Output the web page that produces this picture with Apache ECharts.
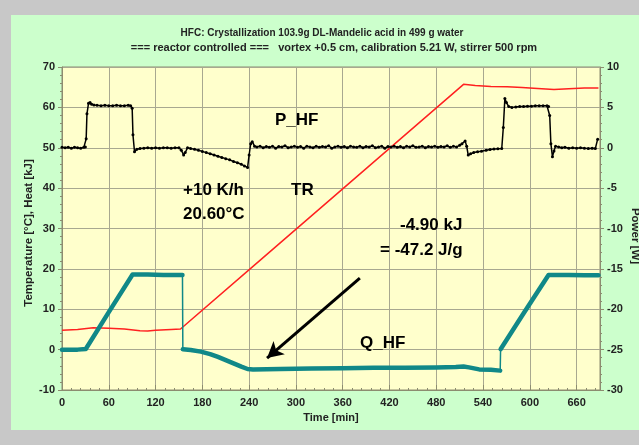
<!DOCTYPE html>
<html><head><meta charset="utf-8">
<script src="https://cdn.jsdelivr.net/npm/echarts@6/dist/echarts.min.js"></script>
<style>html,body{margin:0;padding:0;background:#c8c8c8;overflow:hidden;}#c{width:639px;height:445px;}</style>
</head><body><div id="c"></div>
<script>
// ---- data ----
const titleLine1 = 'HFC: Crystallization 103.9g DL-Mandelic acid in 499 g water';
const titleLine2 = '=== reactor controlled ===   vortex +0.5 cm, calibration 5.21 W, stirrer 500 rpm';
const xTicks = [0,60,120,180,240,300,360,420,480,540,600,660];

// TR reactor temperature [°C] (left axis)
const trTime  = [0, 20, 40, 60, 80, 100, 110, 120, 140, 152, 255, 515, 530, 550, 571, 590, 610, 631, 650, 670, 688];
const trValue = [4.8, 5.0, 5.4, 5.3, 5.1, 4.7, 4.6, 4.8, 5.0, 5.1, 22.3, 65.7, 65.4, 65.2, 65.1, 64.9, 64.7, 64.4, 64.6, 64.8, 64.8];

// Q_HF heat [kJ] (left axis), thick segments
const qTime1  = [0, 10, 20, 30.5, 60, 90.5, 110, 130, 154.5];
const qValue1 = [0, 0, 0, 0.15, 9.3, 18.6, 18.6, 18.5, 18.5];
const qTime2  = [155, 165, 178, 190, 200, 210, 220, 230, 238, 245, 280, 320, 360, 400, 440, 480, 505, 515, 522, 535, 550, 562];
const qValue2 = [0.1, -0.1, -0.5, -1.1, -1.8, -2.6, -3.4, -4.2, -4.8, -4.9, -4.8, -4.7, -4.6, -4.5, -4.5, -4.4, -4.3, -4.2, -4.4, -4.9, -5.0, -5.2];
const qTime3  = [562.5, 590, 624, 650, 670, 688];
const qValue3 = [0.1, 8.4, 18.5, 18.5, 18.4, 18.4];
// vertical jumps (thin)
const qJumpTime  = [154.5, 155, null, 562, 562.5];
const qJumpValue = [18.5, 0.1, null, -5.2, 0.1];

// P_HF power [W] (right axis)
const pTime = [0,4,8,12,16,20,24,28,30,31,32,34,36,38,41,45,50,55,60,65,70,75,80,85,88,90,91,93,96,100,105,110,115,120,125,130,135,140,145,150,153,156,158,161,165,170,175,180,185,190,195,200,205,210,215,220,225,230,234,238,240,242,244,247,
  250,254,258,262,266,270,274,278,282,286,290,294,298,302,306,310,314,318,322,326,330,334,338,342,346,350,354,358,362,366,370,374,378,382,386,390,394,398,402,406,410,414,418,422,426,430,434,438,442,446,450,454,458,462,466,470,474,478,482,486,490,494,498,502,506,510,
  513,517,519,521,524,528,533,538,544,549,554,559,564,566,568,570,573,577,582,587,592,597,602,607,612,617,622,624,625.5,627,629,631,633,637,641,645,650,655,660,665,670,675,680,684,687];
const pValue = [0.05,0.0,0.05,-0.05,0.05,0.0,-0.05,0.05,0.1,1.1,4.2,5.5,5.6,5.4,5.3,5.25,5.2,5.25,5.2,5.2,5.25,5.2,5.2,5.25,5.2,4.9,1.6,-0.5,-0.2,-0.1,-0.05,0.0,-0.05,0.0,-0.05,0.0,0.0,-0.05,0.0,0.0,-0.3,-0.9,-0.6,0.0,-0.1,-0.2,-0.3,-0.45,-0.6,-0.75,-0.9,-1.05,-1.2,-1.35,-1.5,-1.7,-1.85,-2.05,-2.25,-2.45,-0.9,0.5,0.75,0.2,
  0.1,0.2,0.0,0.15,0.05,0.2,-0.05,0.15,0.1,0.25,0.0,0.1,0.2,0.05,0.15,-0.05,0.2,0.1,0.0,0.2,0.05,0.15,0.1,0.25,-0.05,0.1,0.2,0.05,0.15,0.0,0.2,0.1,0.05,0.2,0.0,0.15,0.1,0.25,0.0,0.1,0.2,-0.05,0.15,0.1,0.2,0.05,0.15,0.0,0.2,0.1,0.25,0.05,0.1,0.2,0.0,0.15,0.1,0.2,0.05,0.15,0.1,0.25,0.05,0.2,0.1,0.3,
  0.5,0.85,0.2,-0.9,-0.75,-0.6,-0.5,-0.42,-0.3,-0.22,-0.17,-0.12,-0.09,2.5,6.1,5.6,5.1,5.0,5.05,5.1,5.1,5.15,5.15,5.2,5.2,5.2,5.2,5.1,4.0,0.5,-1.1,-0.4,0.2,0.1,0.0,0.05,-0.05,0.0,-0.05,0.0,-0.05,-0.1,-0.05,-0.1,1.06];

// arrow annotation (data coordinates)
const arrowFrom = [382, 17.7];
const arrowTo   = [263, -2.1];

const zip = (a, b) => a.map((t, i) => [t, b[i]]);

const FONT = 'Arial, "Liberation Sans", sans-serif';
const axisLineColor = '#8c8c70';
const gridColor = '#a8a890';
const labelStyle = {color: '#222', fontFamily: FONT, fontWeight: 'bold', fontSize: 11};

const chart = echarts.init(document.getElementById('c'), null, {renderer: 'canvas', width: 639, height: 445});
const annot = (text, x, y, size) => ({
  type: 'text', left: x, top: y - size/2 - 1, z: 100,
  style: {text: text, fill: '#000', font: 'bold ' + size + 'px ' + FONT}
});
const centered = (text, x, y, font, rot) => ({
  type: 'text', x: x, y: y, rotation: rot || 0, z: 100,
  style: {text: text, fill: '#222', font: font, textAlign: 'center', textVerticalAlign: 'middle'}
});
chart.setOption({
  backgroundColor: '#c8c8c8',
  animation: false,
  grid: {left: 62, right: 39, top: 67, bottom: 55, show: true, backgroundColor: '#ffffcc', borderColor: axisLineColor, borderWidth: 1},
  graphic: [
    {type: 'rect', left: 11, top: 15, shape: {width: 628, height: 415}, style: {fill: '#ccffcc'}, z: -10, silent: true},
    centered(titleLine1, 322, 33, 'bold 10px ' + FONT),
    centered(titleLine2, 334, 48, 'bold 11px ' + FONT),
    centered('Temperature [°C], Heat [kJ]', 29, 233, 'bold 11.5px ' + FONT, Math.PI / 2),
    centered('Power [W]', 635, 236, 'bold 11.5px ' + FONT, -Math.PI / 2),
    annot('P_HF', 275, 121, 17),
    annot('+10 K/h', 183, 191, 17),
    annot('20.60°C', 183, 215, 17),
    annot('TR', 291, 191, 17),
    annot('-4.90 kJ', 400, 226, 17),
    annot('= -47.2 J/g', 380, 251, 17),
    annot('Q_HF', 360, 344, 17)
  ],
  xAxis: {
    type: 'value', min: 0, max: 690, interval: 60,
    name: 'Time [min]', nameLocation: 'middle', nameGap: 21,
    nameTextStyle: {color: '#222', fontFamily: FONT, fontWeight: 'bold', fontSize: 11},
    axisLine: {onZero: false, lineStyle: {color: axisLineColor}},
    axisTick: {inside: true, length: 5, lineStyle: {color: axisLineColor}},
    minorTick: {show: true, splitNumber: 5, length: 2, lineStyle: {color: axisLineColor}},
    splitLine: {show: true, lineStyle: {color: gridColor, width: 1}},
    axisLabel: Object.assign({margin: 7, formatter: v => xTicks.includes(v) ? String(v) : ''}, labelStyle)
  },
  yAxis: [
    {
      type: 'value', min: -10, max: 70, interval: 10, position: 'left',
      axisLine: {show: true, onZero: false, lineStyle: {color: axisLineColor}},
      axisTick: {show: true, length: 4, lineStyle: {color: axisLineColor}},
      minorTick: {show: true, splitNumber: 5, length: 2, lineStyle: {color: axisLineColor}},
      splitLine: {show: true, lineStyle: {color: gridColor, width: 1}},
      axisLabel: Object.assign({margin: 7}, labelStyle)
    },
    {
      type: 'value', min: -30, max: 10, interval: 5, position: 'right',
      axisLine: {show: true, onZero: false, lineStyle: {color: axisLineColor}},
      axisTick: {show: true, length: 4, lineStyle: {color: axisLineColor}},
      minorTick: {show: true, splitNumber: 5, length: 2, lineStyle: {color: axisLineColor}},
      splitLine: {show: false},
      axisLabel: Object.assign({margin: 7}, labelStyle)
    }
  ],
  series: [
    {name: 'TR', type: 'line', yAxisIndex: 0, data: zip(trTime, trValue), showSymbol: false,
     lineStyle: {color: '#ff2020', width: 1.5}, z: 3},
    {name: 'Q_HF jumps', type: 'line', yAxisIndex: 0, data: zip(qJumpTime, qJumpValue), showSymbol: false, connectNulls: false,
     lineStyle: {color: '#108888', width: 1.5}, z: 4},
    {name: 'Q_HF', type: 'line', yAxisIndex: 0,
     data: zip(qTime1, qValue1).concat([[null, null]], zip(qTime2, qValue2), [[null, null]], zip(qTime3, qValue3)),
     showSymbol: false, connectNulls: false,
     lineStyle: {color: '#108888', width: 4.5, cap: 'round', join: 'round'}, z: 5,
     markLine: {silent: true, symbol: ['none', 'arrow'], symbolSize: [13, 16], label: {show: false},
       lineStyle: {color: '#000', width: 3, type: 'solid'},
       data: [[{coord: arrowFrom}, {coord: arrowTo}]]}},
    {name: 'P_HF', type: 'line', yAxisIndex: 1, data: zip(pTime, pValue),
     symbol: 'circle', symbolSize: 3, showAllSymbol: true,
     itemStyle: {color: '#000'}, lineStyle: {color: '#000', width: 1.5}, z: 6}
  ]
});
</script></body></html>
